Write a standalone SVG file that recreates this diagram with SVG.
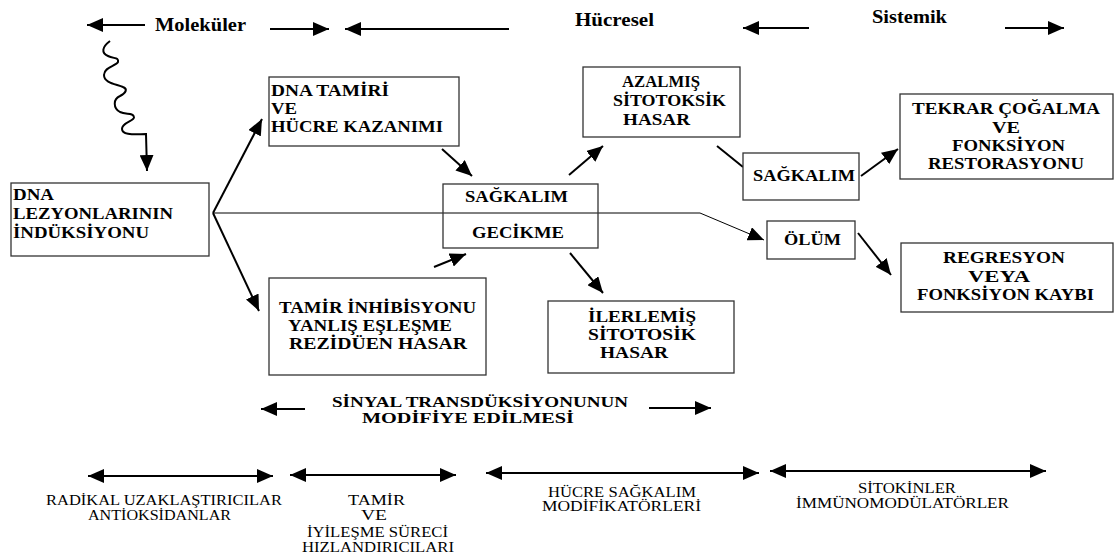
<svg xmlns="http://www.w3.org/2000/svg" width="1115" height="557" viewBox="0 0 1115 557">
<style>
.bx{fill:#fff;stroke:#333;stroke-width:1.3}
.ln{fill:none;stroke:#000;stroke-width:2}
.thin{fill:none;stroke:#000;stroke-width:1}
.b{font-family:'Liberation Serif','DejaVu Serif',serif;font-weight:bold;font-size:16px;fill:#000}
.t{font-family:'Liberation Serif','DejaVu Serif',serif;font-weight:bold;font-size:18px;fill:#000}
.s{font-family:'Liberation Serif','DejaVu Serif',serif;font-weight:bold;font-size:15px;fill:#000}
.l{font-family:'Liberation Serif','DejaVu Serif',serif;font-size:14px;fill:#000}
</style>
<defs>
<marker id="ah" viewBox="0 0 16 14" refX="16" refY="7" markerWidth="16" markerHeight="14" markerUnits="userSpaceOnUse" orient="auto-start-reverse">
<path d="M0,0 L16,7 L0,14 z" fill="#000"/>
</marker>
</defs>
<rect width="1115" height="557" fill="#fff"/>

<g id="scale-top">
<path class="ln" d="M145,25 L87,25" marker-end="url(#ah)"/>
<text class="t" x="155" y="31" textLength="91" lengthAdjust="spacingAndGlyphs">Moleküler</text>
<path class="ln" d="M270,29 L329,29" marker-end="url(#ah)"/>
<path class="ln" d="M509,29 L345,29" marker-end="url(#ah)"/>
<text class="t" x="575" y="26" textLength="79" lengthAdjust="spacingAndGlyphs">Hücresel</text>
<path class="ln" d="M809,28 L743,28" marker-end="url(#ah)"/>
<text class="t" x="872" y="23" textLength="75" lengthAdjust="spacingAndGlyphs">Sistemik</text>
<path class="ln" d="M1005,28 L1064,28" marker-end="url(#ah)"/>
</g>

<g id="connectors">
<path class="ln" d="M110,41 C102,47 101,53 108,56 C114,59 119,57 118,62 C116,66 104,67 104,75 C104,83 116,84 123,87 C128,89 126,93 120,96 C113,99 113,108 120,112 C126,115 133,112 134,117 C135,121 122,122 122,129 C122,134 130,135 146,134 L147,171" marker-end="url(#ah)"/>
<path class="ln" d="M213,213 L262,119" marker-end="url(#ah)"/>
<path class="ln" d="M213,213 L259,311" marker-end="url(#ah)"/>
<path class="thin" d="M213,213 L700,213 L764,240" marker-end="url(#ah)"/>
<path class="ln" d="M442,149 L472,176" marker-end="url(#ah)"/>
<path class="ln" d="M434,267 L466,254" marker-end="url(#ah)"/>
<path class="ln" d="M569,175 L603,146" marker-end="url(#ah)"/>
<path class="ln" d="M570,253 L603,293" marker-end="url(#ah)"/>
<path class="ln" d="M717,146 L743,167"/>
<path class="ln" d="M861,176 L898,149" marker-end="url(#ah)"/>
<path class="ln" d="M858,233 L891,275" marker-end="url(#ah)"/>
</g>

<g id="n-dna-lezyon">
<rect class="bx" x="11" y="183" width="198" height="73"/>
<text class="b" x="13" y="200" textLength="41" lengthAdjust="spacingAndGlyphs">DNA</text>
<text class="b" x="13" y="219" textLength="160" lengthAdjust="spacingAndGlyphs">LEZYONLARININ</text>
<text class="b" x="13" y="238" textLength="136" lengthAdjust="spacingAndGlyphs">İNDÜKSİYONU</text>
</g>

<g id="n-dna-tamiri">
<rect class="bx" x="269" y="77" width="190" height="69"/>
<text class="b" x="271" y="96" textLength="118" lengthAdjust="spacingAndGlyphs">DNA TAMİRİ</text>
<text class="b" x="271" y="114" textLength="26" lengthAdjust="spacingAndGlyphs">VE</text>
<text class="b" x="271" y="132" textLength="172" lengthAdjust="spacingAndGlyphs">HÜCRE KAZANIMI</text>
</g>

<g id="n-sagkalim-gecikme">
<rect class="bx" x="443" y="184" width="155" height="64" style="fill:none"/>
<text class="b" x="465" y="202" textLength="103" lengthAdjust="spacingAndGlyphs">SAĞKALIM</text>
<text class="b" x="472" y="238" textLength="92" lengthAdjust="spacingAndGlyphs">GECİKME</text>
</g>

<g id="n-azalmis">
<rect class="bx" x="583" y="67" width="157" height="70"/>
<text class="b" x="622" y="87" textLength="78" lengthAdjust="spacingAndGlyphs">AZALMIŞ</text>
<text class="b" x="613" y="106" textLength="113" lengthAdjust="spacingAndGlyphs">SİTOTOKSİK</text>
<text class="b" x="623" y="125" textLength="67" lengthAdjust="spacingAndGlyphs">HASAR</text>
</g>

<g id="n-sagkalim">
<rect class="bx" x="743" y="153" width="116" height="47"/>
<text class="b" x="753" y="181" textLength="102" lengthAdjust="spacingAndGlyphs">SAĞKALIM</text>
</g>

<g id="n-tekrar">
<rect class="bx" x="900" y="94" width="213" height="85"/>
<text class="b" x="912" y="114" textLength="188" lengthAdjust="spacingAndGlyphs">TEKRAR ÇOĞALMA</text>
<text class="b" x="992" y="133" textLength="28" lengthAdjust="spacingAndGlyphs">VE</text>
<text class="b" x="952" y="151" textLength="113" lengthAdjust="spacingAndGlyphs">FONKSİYON</text>
<text class="b" x="928" y="169" textLength="156" lengthAdjust="spacingAndGlyphs">RESTORASYONU</text>
</g>

<g id="n-olum">
<rect class="bx" x="767" y="221" width="88" height="38"/>
<text class="b" x="784" y="245" textLength="57" lengthAdjust="spacingAndGlyphs">ÖLÜM</text>
</g>

<g id="n-regresyon">
<rect class="bx" x="901" y="243" width="212" height="69"/>
<text class="b" x="943" y="263" textLength="122" lengthAdjust="spacingAndGlyphs">REGRESYON</text>
<text class="b" x="968" y="282" textLength="62" lengthAdjust="spacingAndGlyphs">VEYA</text>
<text class="b" x="917" y="300" textLength="177" lengthAdjust="spacingAndGlyphs">FONKSİYON KAYBI</text>
</g>

<g id="n-tamir">
<rect class="bx" x="269" y="278" width="217" height="97"/>
<text class="b" x="279" y="313" textLength="197" lengthAdjust="spacingAndGlyphs">TAMİR İNHİBİSYONU</text>
<text class="b" x="288" y="331" textLength="164" lengthAdjust="spacingAndGlyphs">YANLIŞ EŞLEŞME</text>
<text class="b" x="289" y="349" textLength="178" lengthAdjust="spacingAndGlyphs">REZİDÜEN HASAR</text>
</g>

<g id="n-ilerlemis">
<rect class="bx" x="548" y="301" width="186" height="72"/>
<text class="b" x="588" y="322" textLength="108" lengthAdjust="spacingAndGlyphs">İLERLEMİŞ</text>
<text class="b" x="588" y="340" textLength="108" lengthAdjust="spacingAndGlyphs">SİTOTOSİK</text>
<text class="b" x="600" y="358" textLength="68" lengthAdjust="spacingAndGlyphs">HASAR</text>
</g>

<g id="sinyal">
<path class="ln" d="M305,409 L261,409" marker-end="url(#ah)"/>
<text class="s" x="332" y="407" textLength="296" lengthAdjust="spacingAndGlyphs">SİNYAL TRANSDÜKSİYONUNUN</text>
<text class="s" x="362" y="423" textLength="212" lengthAdjust="spacingAndGlyphs">MODİFİYE EDİLMESİ</text>
<path class="ln" d="M649,408 L711,408" marker-end="url(#ah)"/>
</g>

<g id="bottom-scale">
<path class="ln" d="M88,476 L273,476" marker-start="url(#ah)" marker-end="url(#ah)"/>
<path class="ln" d="M290,475 L456,475" marker-start="url(#ah)" marker-end="url(#ah)"/>
<path class="ln" d="M486,473 L759,473" marker-start="url(#ah)" marker-end="url(#ah)"/>
<path class="ln" d="M770,471 L1046,471" marker-start="url(#ah)" marker-end="url(#ah)"/>
<text class="l" x="46" y="505" textLength="236" lengthAdjust="spacingAndGlyphs">RADİKAL UZAKLAŞTIRICILAR</text>
<text class="l" x="88" y="520" textLength="143" lengthAdjust="spacingAndGlyphs">ANTİOKSİDANLAR</text>
<text class="l" x="348" y="505" textLength="57" lengthAdjust="spacingAndGlyphs">TAMİR</text>
<text class="l" x="361" y="520" textLength="26" lengthAdjust="spacingAndGlyphs">VE</text>
<text class="l" x="307" y="537" textLength="141" lengthAdjust="spacingAndGlyphs">İYİLEŞME SÜRECİ</text>
<text class="l" x="302" y="552" textLength="152" lengthAdjust="spacingAndGlyphs">HIZLANDIRICILARI</text>
<text class="l" x="548" y="497" textLength="148" lengthAdjust="spacingAndGlyphs">HÜCRE SAĞKALIM</text>
<text class="l" x="542" y="511" textLength="159" lengthAdjust="spacingAndGlyphs">MODİFİKATÖRLERİ</text>
<text class="l" x="858" y="493" textLength="98" lengthAdjust="spacingAndGlyphs">SİTOKİNLER</text>
<text class="l" x="796" y="508" textLength="213" lengthAdjust="spacingAndGlyphs">İMMÜNOMODÜLATÖRLER</text>
</g>
</svg>
